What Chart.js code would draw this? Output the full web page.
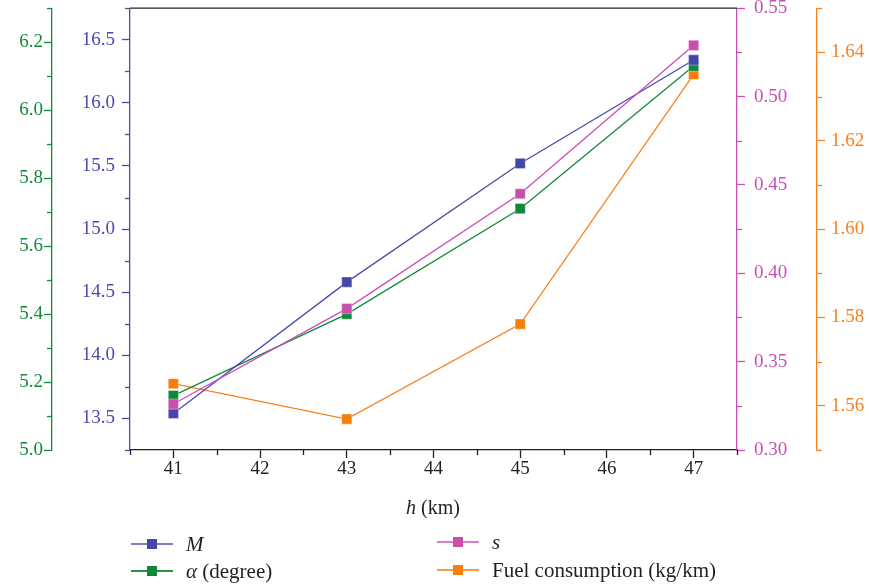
<!DOCTYPE html>
<html>
<head>
<meta charset="utf-8">
<script src="https://cdn.jsdelivr.net/npm/chart.js@4.4.1/dist/chart.umd.min.js"></script>
<style>
html,body{margin:0;padding:0;background:#fff;}
#wrap{position:relative;width:869px;height:588px;overflow:hidden;font-family:"Liberation Serif","Times New Roman",serif;color:#231F20;}
#c{position:absolute;left:0;top:0;}
.xt{position:absolute;left:333px;width:200px;top:495px;text-align:center;font-size:20px;line-height:24px;}
.lg{position:absolute;height:24px;font-size:21px;line-height:24px;white-space:nowrap;}
.lg .ln{position:absolute;left:0;top:11px;width:42px;height:1.6px;}
.lg .sq{position:absolute;left:16px;top:7px;width:10px;height:10px;}
.lg .tx{position:absolute;left:55px;top:0;}
i{font-style:italic;}
</style>
</head>
<body>
<div id="wrap">
<canvas id="c" width="869" height="588"></canvas>
<div class="xt"><i>h</i> (km)</div>
<div class="lg" style="left:131px;top:532px;"><span class="ln" style="background:#7D7DC8"></span><span class="sq" style="background:#4347A8"></span><span class="tx"><i>M</i></span></div>
<div class="lg" style="left:131px;top:559px;"><span class="ln" style="background:#2A9244"></span><span class="sq" style="background:#0F8837"></span><span class="tx"><i>α</i> (degree)</span></div>
<div class="lg" style="left:437px;top:530px;"><span class="ln" style="background:#DA80CB"></span><span class="sq" style="background:#C94FAF"></span><span class="tx"><i>s</i></span></div>
<div class="lg" style="left:437px;top:558px;"><span class="ln" style="background:#F69C48"></span><span class="sq" style="background:#F57F0A"></span><span class="tx">Fuel consumption (kg/km)</span></div>
</div>
<script>
// ---- data ----
const heights = [41, 43, 45, 47];
const machValues = [13.54, 14.58, 15.52, 16.34];
const alphaValues = [5.16, 5.40, 5.71, 6.13];
const sValues = [0.326, 0.380, 0.445, 0.529];
const fuelValues = [1.565, 1.557, 1.5785, 1.635];
const seriesNames = ['M', 'α (degree)', 's', 'Fuel consumption (kg/km)'];

const FONT = '"Liberation Serif"';
const colM = '#4B4BAE', colA = '#138A3A', colS = '#C94FB5', colF = '#F5821F';
const BLACK = '#231F20';

function pts(vals){ return heights.map((h,i)=>({x:h, y:vals[i]})); }
function near(v, step){ const r = v/step; return Math.abs(r - Math.round(r)) < 1e-6; }

function ds(label, vals, axis, line, mark){
  return {label, data: pts(vals), yAxisID: axis, borderColor: line, backgroundColor: mark,
    borderWidth: 1.3, pointStyle: 'rect', pointRadius: 7.2, pointHoverRadius: 7.2,
    pointBackgroundColor: mark, pointBorderColor: 'rgba(255,255,255,0.35)', pointBorderWidth: 1, tension: 0};
}

function yScale(pos, weight, min, max, step, majorStep, dec, color, width, pad){
  return {
    type: 'linear', position: pos, weight, min, max,
    afterFit(s){ s.width = width; s.paddingTop = 0; s.paddingBottom = 0; },
    border: {display: true, color, width: 1.3},
    grid: {drawOnChartArea: false, drawTicks: true, tickLength: 8, tickWidth: 1.3,
      tickColor: (c) => (c.tick && near(c.tick.value, majorStep)) ? color : 'rgba(0,0,0,0)'},
    ticks: {stepSize: step, color, padding: pad, font: {family: FONT, size: 19},
      autoSkip: false,
      callback: (v) => near(v, majorStep) ? v.toFixed(dec) : ''}
  };
}

const minorTicks = {
  id: 'minorTicks',
  afterDraw(chart){
    const ctx = chart.ctx;
    const defs = {x: [BLACK, 1], yM: [colM, 0.5], yA: [colA, 0.2], yS: [colS, 0.05], yF: [colF, 0.02]};
    for (const id of Object.keys(defs)) {
      const sc = chart.scales[id];
      const [col, major] = defs[id];
      ctx.save();
      ctx.strokeStyle = col; ctx.lineWidth = 1.3;
      sc.ticks.forEach(t => {
        if (near(t.value, major)) return;
        const p = Math.round(sc.getPixelForValue(t.value)) + 0.5;
        ctx.beginPath();
        if (id === 'x') { ctx.moveTo(p, sc.top); ctx.lineTo(p, sc.top + 5); }
        else if (sc.position === 'left') { ctx.moveTo(sc.right, p); ctx.lineTo(sc.right - 5, p); }
        else { ctx.moveTo(sc.left, p); ctx.lineTo(sc.left + 5, p); }
        ctx.stroke();
      });
      ctx.restore();
    }
    const a = chart.chartArea;
    ctx.save();
    ctx.strokeStyle = BLACK; ctx.lineWidth = 1.3;
    ctx.beginPath(); ctx.moveTo(a.left, a.top); ctx.lineTo(a.right, a.top); ctx.stroke();
    ctx.restore();
  }
};

function draw(){
  new Chart(document.getElementById('c').getContext('2d'), {
    type: 'line',
    data: {
      datasets: [
        ds(seriesNames[2], sValues, 'yS', colS, '#C94FAF'),
        ds(seriesNames[0], machValues, 'yM', colM, '#4347A8'),
        ds(seriesNames[1], alphaValues, 'yA', colA, '#0F8837'),
        ds(seriesNames[3], fuelValues, 'yF', colF, '#F57F0A')
      ]
    },
    options: {
      responsive: false, animation: false, devicePixelRatio: 1,
      layout: {padding: {top: 7, left: 0, right: 0, bottom: 0}},
      plugins: {legend: {display: false}, tooltip: {enabled: false}},
      scales: {
        x: {
          type: 'linear', position: 'bottom', min: 40.5, max: 47.5,
          afterFit(s){ s.height = 138; s.paddingLeft = 0; s.paddingRight = 0; },
          border: {display: true, color: BLACK, width: 1.3},
          grid: {drawOnChartArea: false, tickLength: 8, tickWidth: 1.3,
            tickColor: (c) => (c.tick && near(c.tick.value, 1)) ? BLACK : 'rgba(0,0,0,0)'},
          ticks: {stepSize: 0.5, autoSkip: false, maxRotation: 0, color: BLACK, padding: 0,
            font: {family: FONT, size: 19},
            callback: (v) => near(v, 1) ? String(v) : ''}
        },
        yM: yScale('left', 0, 13.25, 16.75, 0.25, 0.5, 1, colM, 78, 7),
        yA: yScale('left', 1, 5.0, 6.3, 0.1, 0.2, 1, colA, 52, 1),
        yS: yScale('right', 0, 0.30, 0.55, 0.025, 0.05, 2, colS, 80, 9),
        yF: yScale('right', 1, 1.55, 1.65, 0.01, 0.02, 2, colF, 52, 6)
      }
    },
    plugins: [minorTicks]
  });
}

if (document.fonts && document.fonts.load) {
  document.fonts.load('19px "Liberation Serif"').then(draw, draw);
} else { draw(); }
</script>
</body>
</html>
